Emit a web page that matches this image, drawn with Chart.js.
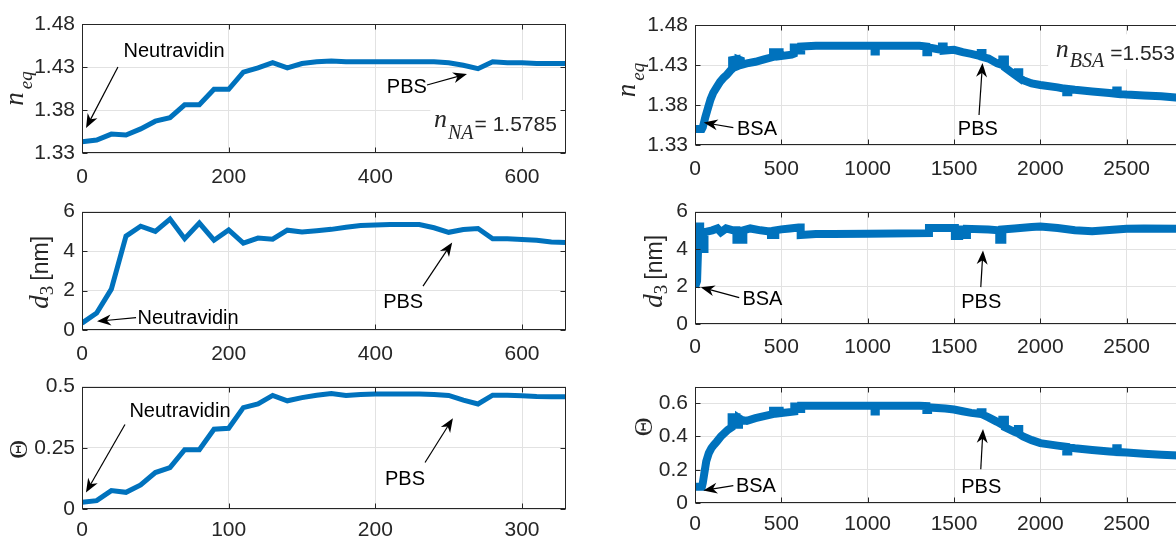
<!DOCTYPE html>
<html>
<head>
<meta charset="utf-8">
<title>Neutravidin / BSA adsorption</title>
<script src="https://cdn.jsdelivr.net/npm/chart.js@4.4.1/dist/chart.umd.min.js"></script>
<style>
  html, body { margin: 0; padding: 0; background: #fff; }
  body { width: 1176px; height: 545px; overflow: hidden; position: relative; }
  canvas { position: absolute; }
</style>
</head>
<body>
<canvas id="naNeq"></canvas>
<canvas id="naD3"></canvas>
<canvas id="naTheta"></canvas>
<canvas id="bsaNeq"></canvas>
<canvas id="bsaD3"></canvas>
<canvas id="bsaTheta"></canvas>
<script>
"use strict";

// ---- Neutravidin run (left column), one sample every 20 s ----
const timeNa = [0, 20, 40, 60, 80, 100, 120, 140, 160, 180, 200, 220, 240, 260, 280, 300, 320,
                340, 360, 380, 400, 420, 440, 460, 480, 500, 520, 540, 560, 580, 600, 620, 640, 660];
const nEqNa = [1.343, 1.345, 1.352, 1.351, 1.358, 1.367, 1.371, 1.386, 1.386, 1.404, 1.404, 1.424,
               1.429, 1.435, 1.429, 1.434, 1.436, 1.437, 1.436, 1.436, 1.436, 1.436, 1.436, 1.436,
               1.436, 1.435, 1.432, 1.428, 1.436, 1.435, 1.435, 1.434, 1.434, 1.434];
const d3Na = [0.35, 0.86, 2.07, 4.76, 5.26, 5.00, 5.62, 4.63, 5.42, 4.55, 5.07, 4.40, 4.66, 4.60,
              5.06, 4.97, 5.03, 5.10, 5.21, 5.29, 5.32, 5.34, 5.34, 5.34, 5.18, 4.95, 5.09, 5.14,
              4.62, 4.62, 4.59, 4.55, 4.46, 4.43];
// coverage is plotted on its own time axis (0..330)
const timeNaTheta = [0, 10, 20, 30, 40, 50, 60, 70, 80, 90, 100, 110, 120, 130, 140, 150, 160,
                     170, 180, 190, 200, 210, 220, 230, 240, 250, 260, 270, 280, 290, 300, 310, 320, 330];
const thetaNa = [0.027, 0.034, 0.075, 0.068, 0.098, 0.149, 0.169, 0.242, 0.242, 0.326, 0.330, 0.414,
                 0.429, 0.464, 0.442, 0.455, 0.465, 0.472, 0.464, 0.468, 0.470, 0.470, 0.470, 0.470,
                 0.468, 0.464, 0.445, 0.429, 0.465, 0.465, 0.463, 0.460, 0.459, 0.459];

// ---- BSA run (right column), [time, value]; repeated times are level jumps ----
const nEqBsa = [
  [0, 1.350], [40, 1.350], [45, 1.352], [60, 1.365], [75, 1.376], [90, 1.387], [105, 1.395],
  [125, 1.402], [145, 1.409], [165, 1.414], [185, 1.418], [205, 1.423], [215, 1.425], [215, 1.436],
  [240, 1.437], [240, 1.428], [252, 1.429], [252, 1.437], [265, 1.436], [265, 1.430], [300, 1.432],
  [350, 1.434], [400, 1.437], [452, 1.440], [452, 1.446], [490, 1.446], [490, 1.441], [560, 1.443],
  [572, 1.444], [572, 1.452], [600, 1.452], [600, 1.448], [615, 1.448], [615, 1.453], [700, 1.454],
  [1040, 1.454], [1040, 1.447], [1047, 1.447], [1047, 1.454], [1300, 1.454], [1340, 1.453],
  [1340, 1.446], [1350, 1.446], [1350, 1.452], [1400, 1.450], [1430, 1.449], [1430, 1.453],
  [1440, 1.453], [1440, 1.448], [1500, 1.449], [1550, 1.446], [1600, 1.444], [1655, 1.441],
  [1655, 1.445], [1665, 1.445], [1665, 1.440], [1700, 1.438], [1750, 1.432], [1780, 1.430],
  [1780, 1.437], [1795, 1.437], [1795, 1.427], [1850, 1.418], [1870, 1.415], [1870, 1.421],
  [1878, 1.421], [1878, 1.414], [1900, 1.411], [1950, 1.407], [2000, 1.405], [2100, 1.402],
  [2150, 1.400], [2150, 1.396], [2162, 1.396], [2162, 1.400], [2200, 1.399], [2300, 1.397],
  [2400, 1.395], [2440, 1.394], [2440, 1.398], [2448, 1.398], [2448, 1.394], [2500, 1.393],
  [2600, 1.392], [2700, 1.391], [2800, 1.389], [2900, 1.388], [3000, 1.388]
];
const d3Bsa = [
  [0, 1.97], [12, 2.3], [22, 5.2], [30, 5.2], [30, 4.0], [55, 4.0], [55, 4.9],
  [100, 5.0], [130, 5.1], [150, 4.9], [180, 5.1], [220, 5.0], [240, 5.0], [240, 4.5], [280, 4.5],
  [280, 5.0], [320, 5.1], [380, 5.0], [420, 4.95], [440, 4.95], [440, 4.75], [465, 4.75],
  [465, 5.0], [500, 5.05], [550, 5.1], [600, 5.15], [612, 5.15], [612, 4.75], [700, 4.8],
  [800, 4.8], [1000, 4.82], [1355, 4.85], [1355, 5.12], [1505, 5.12], [1505, 4.7], [1530, 4.7],
  [1530, 5.05], [1560, 5.05], [1560, 4.75], [1575, 4.75], [1575, 5.08], [1700, 5.05], [1762, 5.0],
  [1762, 4.5], [1780, 4.5], [1780, 5.05], [1850, 5.1], [1950, 5.18], [2000, 5.2], [2100, 5.12],
  [2200, 5.0], [2300, 4.95], [2400, 5.02], [2500, 5.08], [2600, 5.1], [2800, 5.08], [3000, 5.08]
];
const thetaBsa = [
  [0, 0.097], [40, 0.097], [45, 0.12], [65, 0.25], [80, 0.30], [95, 0.33], [110, 0.35],
  [125, 0.368], [150, 0.40], [170, 0.42], [190, 0.44], [212, 0.455], [212, 0.515], [240, 0.515],
  [240, 0.47], [255, 0.47], [255, 0.51], [270, 0.50], [300, 0.494], [350, 0.51], [400, 0.523],
  [452, 0.535], [452, 0.555], [490, 0.555], [490, 0.54], [560, 0.548], [575, 0.55], [575, 0.58],
  [600, 0.58], [600, 0.565], [615, 0.565], [615, 0.585], [800, 0.585], [1040, 0.585],
  [1040, 0.55], [1047, 0.55], [1047, 0.585], [1300, 0.585], [1340, 0.583], [1340, 0.56],
  [1350, 0.56], [1350, 0.575], [1450, 0.568], [1500, 0.562], [1550, 0.552], [1600, 0.542],
  [1655, 0.535], [1655, 0.545], [1665, 0.545], [1665, 0.532], [1700, 0.515], [1750, 0.488],
  [1780, 0.47], [1780, 0.50], [1795, 0.50], [1795, 0.455], [1850, 0.428], [1870, 0.42],
  [1870, 0.445], [1878, 0.445], [1878, 0.415], [1900, 0.40], [1950, 0.378], [2000, 0.36],
  [2100, 0.345], [2150, 0.338], [2150, 0.31], [2162, 0.31], [2162, 0.335], [2200, 0.329],
  [2300, 0.319], [2400, 0.31], [2440, 0.307], [2440, 0.33], [2448, 0.33], [2448, 0.306],
  [2500, 0.304], [2600, 0.296], [2700, 0.29], [2800, 0.286], [2900, 0.283], [3000, 0.282]
];

// ---- tick values ----
const ticksTimeNa = [0, 200, 400, 600];
const ticksTimeNaTheta = [0, 100, 200, 300];
const ticksTimeBsa = [0, 500, 1000, 1500, 2000, 2500];
const ticksNeq = [1.33, 1.38, 1.43, 1.48];
const ticksD3 = [0, 2, 4, 6];
const ticksThetaNa = [0, 0.25, 0.5];
const ticksThetaBsa = [0, 0.2, 0.4, 0.6];

const BLUE = '#0072BD';
const INK = '#262626';
const GRID = '#e2e2e2';
const SANS = '"Liberation Sans", Arial, sans-serif';
const SERIF = '"Liberation Serif", "Times New Roman", serif';

// axis titles (typeset pieces: text, font, baseline shift)
const titleNeq = [
  { t: 'n', font: `italic 27px ${SERIF}`, gap: 3 },
  { t: 'eq', font: `italic 19px ${SERIF}`, dy: 9 }
];
const titleD3 = [
  { t: 'd', font: `italic 27px ${SERIF}` },
  { t: '3', font: `19px ${SERIF}`, dy: 5, gap: 5 },
  { t: '[nm]', font: `23px ${SANS}` }
];
const titleTheta = [{ t: 'Θ', font: `26px ${SERIF}` }];

function drawParts(ctx, parts, x, y, align) {
  let width = 0;
  parts.forEach(p => { ctx.font = p.font; width += ctx.measureText(p.t).width + (p.gap || 0); });
  let cx = align === 'center' ? x - width / 2 : x;
  ctx.textAlign = 'left';
  ctx.textBaseline = 'alphabetic';
  parts.forEach(p => {
    ctx.font = p.font;
    ctx.fillStyle = p.color || INK;
    ctx.fillText(p.t, cx, y + (p.dy || 0));
    cx += ctx.measureText(p.t).width + (p.gap || 0);
  });
}

function arrow(ctx, x0, y0, x1, y1) {
  const a = Math.atan2(y1 - y0, x1 - x0);
  const c = Math.cos(a), s = Math.sin(a);
  const len = 14, half = 5.5;
  ctx.strokeStyle = '#000';
  ctx.fillStyle = '#000';
  ctx.lineWidth = 1.2;
  ctx.beginPath();
  ctx.moveTo(x0, y0);
  ctx.lineTo(x1 - len * 0.6 * c, y1 - len * 0.6 * s);
  ctx.stroke();
  const bx = x1 - len * c, by = y1 - len * s;
  ctx.beginPath();
  ctx.moveTo(x1, y1);
  ctx.lineTo(bx + half * s, by - half * c);
  ctx.lineTo(x1 - len * 0.7 * c, y1 - len * 0.7 * s);
  ctx.lineTo(bx - half * s, by + half * c);
  ctx.closePath();
  ctx.fill();
}

// frame with inward ticks, y title, value box and arrow notes
const figureDecor = {
  id: 'figureDecor',
  afterDraw(chart, args, opts) {
    const { ctx, chartArea: a } = chart;
    const sx = chart.scales.x, sy = chart.scales.y;
    const px = v => sx.getPixelForValue(v);
    const py = v => sy.getPixelForValue(v);
    ctx.save();

    if (opts.box) {
      const [x0, y0, x1, y1] = opts.box;
      ctx.fillStyle = '#fff';
      ctx.fillRect(px(x0), py(y0), px(x1) - px(x0), py(y1) - py(y0));
    }
    if (opts.label) drawParts(ctx, opts.label.parts, px(opts.label.x), py(opts.label.y), 'left');

    const L = Math.round(a.left) + 0.5, R = Math.round(a.right) - 0.5;
    const T = Math.round(a.top) + 0.5, B = Math.round(a.bottom) - 0.5;
    ctx.strokeStyle = INK;
    ctx.lineWidth = 1;
    ctx.strokeRect(L, T, R - L, B - T);
    ctx.beginPath();
    sx.ticks.forEach(t => {
      const x = Math.round(px(t.value)) + 0.5;
      ctx.moveTo(x, B); ctx.lineTo(x, B - 5);
      ctx.moveTo(x, T); ctx.lineTo(x, T + 5);
    });
    sy.ticks.forEach(t => {
      const y = Math.round(py(t.value)) + 0.5;
      ctx.moveTo(L, y); ctx.lineTo(L + 5, y);
      ctx.moveTo(R, y); ctx.lineTo(R - 5, y);
    });
    ctx.stroke();

    const ti = opts.title;
    ctx.save();
    ctx.translate(a.left - ti.off, (a.top + a.bottom) / 2 + ti.shift);
    ctx.rotate(-Math.PI / 2);
    drawParts(ctx, ti.parts, 0, 0, 'center');
    ctx.restore();

    ctx.font = `20px ${SANS}`;
    opts.notes.forEach(n => {
      ctx.fillStyle = '#000';
      ctx.textAlign = 'center';
      ctx.textBaseline = 'middle';
      ctx.fillText(n.text, px(n.at[0]), py(n.at[1]));
      arrow(ctx, px(n.from[0]), py(n.from[1]), px(n.to[0]), py(n.to[1]));
    });
    ctx.restore();
  }
};

function buildPanel(p) {
  const el = document.getElementById(p.id);
  const [cx, cy, cw, ch] = p.canvas;
  el.width = cw;
  el.height = ch;
  el.style.left = cx + 'px';
  el.style.top = cy + 'px';
  const left = p.area[0] - cx, top = p.area[1] - cy, right = p.area[2] - cx, bottom = p.area[3] - cy;
  const tickFont = { family: SANS, size: 21 };

  return new Chart(el, {
    type: 'line',
    data: {
      datasets: [{
        data: p.points,
        borderColor: BLUE,
        borderWidth: p.lineWidth,
        borderJoinStyle: 'miter',
        pointRadius: 0,
        tension: 0,
        fill: false
      }]
    },
    options: {
      responsive: false,
      animation: false,
      events: [],
      layout: { padding: { left: 0, top: top, right: cw - right, bottom: 0 } },
      plugins: {
        legend: { display: false },
        tooltip: { enabled: false },
        figureDecor: p.decor
      },
      scales: {
        x: {
          type: 'linear',
          min: p.xRange[0],
          max: p.xRange[1],
          afterBuildTicks: s => { s.ticks = p.xTicks.map(v => ({ value: v })); },
          afterFit: s => { s.height = ch - bottom; },
          grid: { color: GRID, drawTicks: false },
          border: { display: false },
          ticks: { font: tickFont, color: INK, padding: p.xPad, maxRotation: 0, autoSkip: false,
                   callback: v => String(v) }
        },
        y: {
          type: 'linear',
          min: p.yRange[0],
          max: p.yRange[1],
          afterBuildTicks: s => { s.ticks = p.yTicks.map(v => ({ value: v })); },
          afterFit: s => { s.width = left; },
          grid: { color: GRID, drawTicks: false },
          border: { display: false },
          ticks: { font: tickFont, color: INK, padding: 7, autoSkip: false,
                   callback: v => String(v) }
        }
      }
    },
    plugins: [figureDecor]
  });
}

const pairs = (xs, ys) => xs.map((x, i) => ({ x: x, y: ys[i] }));
const fromRows = rows => rows.map(r => ({ x: r[0], y: r[1] }));

const labelNa = [
  { t: 'n', font: `italic 26px ${SERIF}`, gap: 1 },
  { t: 'NA', font: `italic 20px ${SERIF}`, dy: 12, gap: 1 },
  { t: '= 1.5785', font: `21px ${SANS}`, dy: 4 }
];
const labelBsa = [
  { t: 'n', font: `italic 26px ${SERIF}`, gap: 1 },
  { t: 'BSA', font: `italic 20px ${SERIF}`, dy: 10, gap: 6 },
  { t: '=1.553', font: `21px ${SANS}`, dy: 3 }
];

const panels = [
  {
    id: 'naNeq', canvas: [0, 0, 580, 192], area: [82, 24, 566, 153],
    points: pairs(timeNa, nEqNa), lineWidth: 5,
    xRange: [0, 660], yRange: [1.33, 1.48], xTicks: ticksTimeNa, yTicks: ticksNeq, xPad: 12,
    decor: {
      title: { parts: titleNeq, off: 59, shift: 0 },
      box: [475, 1.3916, 660, 1.338],
      label: { x: 480, y: 1.3602, parts: labelNa },
      notes: [
        { text: 'Neutravidin', at: [125.5, 1.4486], from: [49, 1.430], to: [5.5, 1.359] },
        { text: 'PBS', at: [443, 1.4067], from: [470.5, 1.4091], to: [525, 1.4219] }
      ]
    }
  },
  {
    id: 'naD3', canvas: [0, 192, 580, 175], area: [82, 203, 566, 330],
    points: pairs(timeNa, d3Na), lineWidth: 5,
    xRange: [0, 660], yRange: [0, 6], xTicks: ticksTimeNa, yTicks: ticksD3, xPad: 12,
    decor: {
      title: { parts: titleD3, off: 34, shift: 1.5 },
      notes: [
        { text: 'Neutravidin', at: [144.6, 0.567], from: [73.7, 0.628], to: [20.5, 0.44] },
        { text: 'PBS', at: [438, 1.417], from: [465, 2.22], to: [504.8, 4.44] }
      ]
    }
  },
  {
    id: 'naTheta', canvas: [0, 367, 580, 178], area: [82, 380, 566, 509],
    points: pairs(timeNaTheta, thetaNa), lineWidth: 5,
    xRange: [0, 330], yRange: [0, 0.5], xTicks: ticksTimeNaTheta, yTicks: ticksThetaNa, xPad: 9,
    decor: {
      title: { parts: titleTheta, off: 55, shift: 1.5 },
      notes: [
        { text: 'Neutravidin', at: [66.8, 0.399], from: [29.3, 0.345], to: [2.7, 0.067] },
        { text: 'PBS', at: [220.2, 0.12], from: [233.9, 0.19], to: [252.9, 0.371] }
      ]
    }
  },
  {
    id: 'bsaNeq', canvas: [590, 0, 650, 192], area: [695, 25, 1213, 145],
    points: fromRows(nEqBsa), lineWidth: 8,
    xRange: [0, 3000], yRange: [1.33, 1.48], xTicks: ticksTimeBsa, yTicks: ticksNeq, xPad: 12,
    decor: {
      title: { parts: titleNeq, off: 60, shift: -5 },
      box: [2045, 1.4684, 3000, 1.4247],
      label: { x: 2089, y: 1.4403, parts: labelBsa },
      notes: [
        { text: 'BSA', at: [359, 1.3494], from: [222, 1.3517], to: [50.3, 1.358] },
        { text: 'PBS', at: [1638, 1.3488], from: [1645, 1.3676], to: [1665, 1.4324] }
      ]
    }
  },
  {
    id: 'bsaD3', canvas: [590, 192, 650, 175], area: [695, 205, 1213, 324],
    points: fromRows(d3Bsa), lineWidth: 8,
    xRange: [0, 3000], yRange: [0, 6], xTicks: ticksTimeBsa, yTicks: ticksD3, xPad: 11,
    decor: {
      title: { parts: titleD3, off: 33, shift: 3.5 },
      notes: [
        { text: 'BSA', at: [390.6, 1.311], from: [256, 1.41], to: [33, 1.967] },
        { text: 'PBS', at: [1658, 1.16], from: [1655, 1.967], to: [1668, 3.93] }
      ]
    }
  },
  {
    id: 'bsaTheta', canvas: [590, 367, 650, 178], area: [695, 383, 1213, 503],
    points: fromRows(thetaBsa), lineWidth: 8,
    xRange: [0, 3000], yRange: [0, 0.7], xTicks: ticksTimeBsa, yTicks: ticksThetaBsa, xPad: 9,
    decor: {
      title: { parts: titleTheta, off: 43, shift: -18 },
      notes: [
        { text: 'BSA', at: [353, 0.0992], from: [222, 0.105], to: [48, 0.0758] },
        { text: 'PBS', at: [1658, 0.0904], from: [1655, 0.2025], to: [1668, 0.445] }
      ]
    }
  }
];

panels.forEach(buildPanel);
</script>
</body>
</html>
